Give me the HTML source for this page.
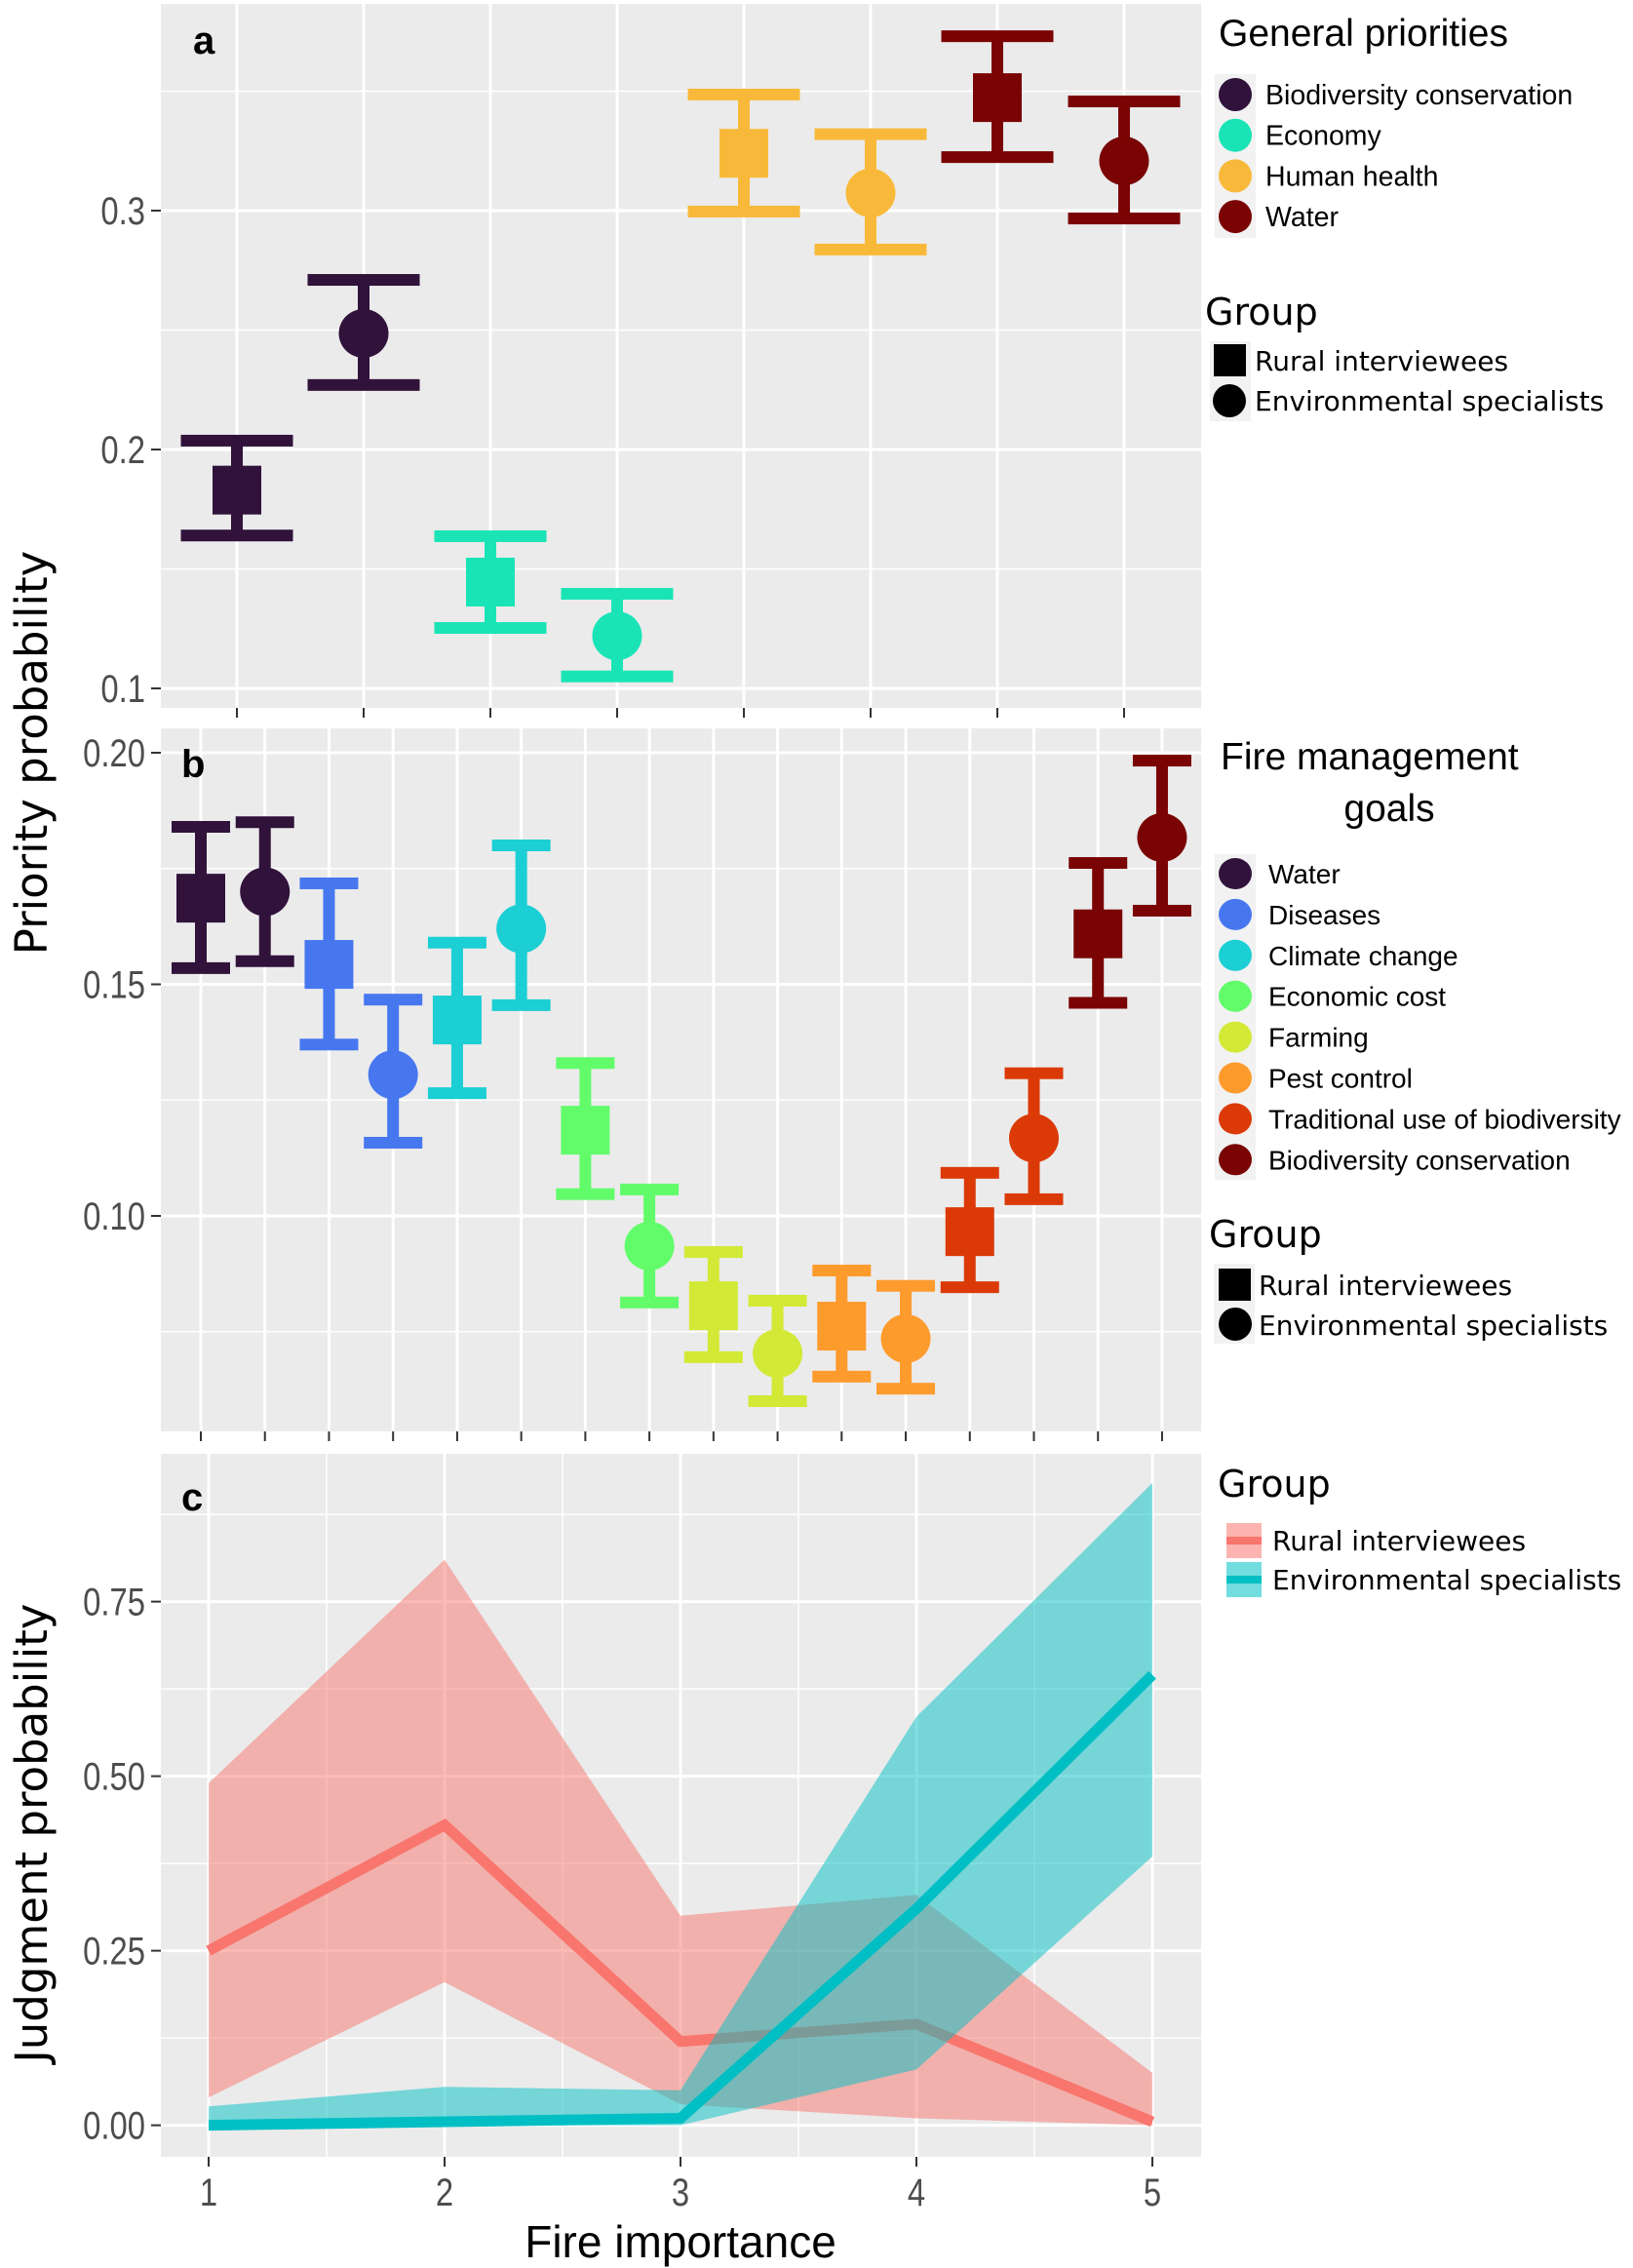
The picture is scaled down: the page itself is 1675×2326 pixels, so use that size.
<!DOCTYPE html>
<html><head><meta charset="utf-8">
<style>
html,body{margin:0;padding:0;background:#fff;}
svg{display:block;}
text{font-family:"Liberation Sans",sans-serif;}
</style></head>
<body>
<svg id="fig" width="1675" height="2326" xmlns="http://www.w3.org/2000/svg">
  <rect x="0" y="0" width="1675" height="2326" fill="#fff"/>
  <g id="pa"></g>
  <g id="pb"></g>
  <g id="pc"></g>
  <text transform="translate(48,772) rotate(-90)" text-anchor="middle" font-size="45" style="font-family:'DejaVu Sans',sans-serif" fill="#000">Priority probability</text>
  <text transform="translate(48,1880) rotate(-90)" text-anchor="middle" font-size="45" style="font-family:'DejaVu Sans',sans-serif" fill="#000">Judgment probability</text>
  <text x="698" y="2315" text-anchor="middle" font-size="46" fill="#000">Fire importance</text>
  <g id="legends"></g>
</svg>
<script>
// ---------- Panel a data ----------
const aCats = ['bio-rural','bio-env','eco-rural','eco-env','health-rural','health-env','water-rural','water-env'];
const aVals = [0.183,0.2486,0.1445,0.122,0.324,0.3074,0.3473,0.3208];
const aLow  = [0.164,0.227,0.1253,0.105,0.2996,0.2837,0.3224,0.2967];
const aHigh = [0.2037,0.271,0.1637,0.1396,0.3486,0.332,0.373,0.3457];
const aShape = ['s','c','s','c','s','c','s','c'];
const aColors = ['#30123b','#30123b','#1ae4b6','#1ae4b6','#f8b93a','#f8b93a','#7a0403','#7a0403'];
const aTicks = [0.1,0.2,0.3];
const aTickLabels = ['0.1','0.2','0.3'];
// ---------- Panel b data ----------
const bCats = ['water-r','water-e','dis-r','dis-e','clim-r','clim-e','ecost-r','ecost-e','farm-r','farm-e','pest-r','pest-e','trad-r','trad-e','bio-r','bio-e'];
const bVals = [0.1686,0.170,0.1543,0.1305,0.1423,0.162,0.1185,0.0935,0.0806,0.0703,0.0762,0.0735,0.0966,0.1168,0.1609,0.1817];
const bLow  = [0.1535,0.155,0.137,0.1158,0.1265,0.1455,0.1047,0.0813,0.0695,0.060,0.0653,0.0627,0.0846,0.1036,0.146,0.1659];
const bHigh = [0.184,0.185,0.1718,0.1467,0.159,0.180,0.133,0.1057,0.0922,0.0817,0.0882,0.0849,0.1093,0.1308,0.1762,0.1983];
const bColors = ['#30123b','#30123b','#4777ef','#4777ef','#1bcfd4','#1bcfd4','#62fc6b','#62fc6b','#d2e935','#d2e935','#fe9b2d','#fe9b2d','#db3a07','#db3a07','#7a0403','#7a0403'];
const bTicks = [0.10,0.15,0.20];
const bTickLabels = ['0.10','0.15','0.20'];
// ---------- Panel c data ----------
const cX = [1,2,3,4,5];
const ruralMean = [0.25,0.43,0.12,0.145,0.005];
const ruralHigh = [0.49,0.81,0.30,0.33,0.075];
const ruralLow  = [0.04,0.205,0.03,0.01,0.0];
const envMean = [0.0,0.005,0.01,0.31,0.645];
const envHigh = [0.027,0.055,0.05,0.585,0.92];
const envLow  = [0.0,0.0,0.0,0.08,0.385];
const cTicks = [0,0.25,0.5,0.75];
const cTickLabels = ['0.00','0.25','0.50','0.75'];
const cXLabels = ['1','2','3','4','5'];

const NS='http://www.w3.org/2000/svg';
function mk(tag,attrs,parent){const e=document.createElementNS(NS,tag);for(const k in attrs)e.setAttribute(k,attrs[k]);parent.appendChild(e);return e;}

const L=165,R=1232;
function panelBg(g,top,bot){
  const r=mk('rect',{x:L,y:top,width:R-L,height:bot-top,fill:'#ebebeb'},g);
  
  
}
function hline(g,y,w,col){mk('line',{x1:L,x2:R,y1:y,y2:y,stroke:col||'#fff','stroke-width':w},g);}
function vline(g,x,top,bot,w){mk('line',{x1:x,x2:x,y1:top,y2:bot,stroke:'#fff','stroke-width':w},g);}
function ytick(g,y,label){
  mk('line',{x1:155,x2:165,y1:y,y2:y,stroke:'#333','stroke-width':2},g);
  const t=mk('text',{transform:'translate(149,'+(y+14)+') scale(0.82,1)','text-anchor':'end','font-size':40,fill:'#4d4d4d'},g);
  t.textContent=label;
  
  
}
function panelLetter(g,x,y,s){
  const t=mk('text',{x:x,y:y,'font-size':40,'font-weight':'bold',fill:'#000'},g);
  t.textContent=s;
  
  
}
function errPoint(g,x,yv,yl,yh,col,shape,capW,name){
  const grp=mk('g',{},g);
  
  
  mk('rect',{x:x-6,y:yh,width:12,height:yl-yh,fill:col},grp);
  mk('rect',{x:x-capW/2,y:yh-6,width:capW,height:12,fill:col},grp);
  mk('rect',{x:x-capW/2,y:yl-6,width:capW,height:12,fill:col},grp);
  if(shape==='s') mk('rect',{x:x-25,y:yv-25,width:50,height:50,fill:col},grp);
  else mk('ellipse',{cx:x,cy:yv,rx:25.5,ry:25,fill:col},grp);
}

// ---------- Panel a ----------
(function(){
  const g=document.getElementById('pa');const top=4,bot=726;
  const ya=v=>216-(v-0.3)*2450;
  const xa=i=>243+i*130;
  panelBg(g,top,bot);
  [0.15,0.25,0.35].forEach(v=>hline(g,ya(v),1.5));
  aTicks.forEach(v=>hline(g,ya(v),3));
  aCats.forEach((c,i)=>vline(g,xa(i),top,bot,3));
  aTicks.forEach((v,i)=>ytick(g,ya(v),aTickLabels[i]));
  aCats.forEach((c,i)=>mk('line',{x1:xa(i),x2:xa(i),y1:bot,y2:bot+10,stroke:'#333','stroke-width':2},g));
  aCats.forEach((c,i)=>errPoint(g,xa(i),ya(aVals[i]),ya(aLow[i]),ya(aHigh[i]),aColors[i],aShape[i],115,'point-a-'+c));
  panelLetter(g,198,55,'a');
})();

// ---------- Panel b ----------
(function(){
  const g=document.getElementById('pb');const top=747,bot=1468;
  const yb=v=>772-(v-0.20)*4750;
  const xb=i=>206+i*65.73;
  panelBg(g,top,bot);
  [0.075,0.125,0.175].forEach(v=>hline(g,yb(v),1.5));
  bTicks.forEach(v=>hline(g,yb(v),3));
  bCats.forEach((c,i)=>vline(g,xb(i),top,bot,3));
  bTicks.forEach((v,i)=>ytick(g,yb(v),bTickLabels[i]));
  bCats.forEach((c,i)=>mk('line',{x1:xb(i),x2:xb(i),y1:bot,y2:bot+10,stroke:'#333','stroke-width':2},g));
  bCats.forEach((c,i)=>errPoint(g,xb(i),yb(bVals[i]),yb(bLow[i]),yb(bHigh[i]),bColors[i],i%2===0?'s':'c',60,'point-b-'+c));
  panelLetter(g,186,797,'b');
})();

// ---------- Panel c ----------
(function(){
  const g=document.getElementById('pc');const top=1491,bot=2212;
  const yc=v=>2179.6-v*716;
  const xc=v=>214+(v-1)*242;
  panelBg(g,top,bot);
  [0.125,0.375,0.625,0.875].forEach(v=>hline(g,yc(v),1.5));
  cTicks.forEach(v=>hline(g,yc(v),3));
  [1.5,2.5,3.5,4.5].forEach(v=>vline(g,xc(v),top,bot,1.5));
  cX.forEach(v=>vline(g,xc(v),top,bot,3));
  cTicks.forEach((v,i)=>ytick(g,yc(v),cTickLabels[i]));
  cX.forEach((v,i)=>{
    mk('line',{x1:xc(v),x2:xc(v),y1:bot,y2:bot+10,stroke:'#333','stroke-width':2},g);
    const t=mk('text',{transform:'translate('+xc(v)+','+(bot+50)+') scale(0.82,1)','text-anchor':'middle','font-size':40,fill:'#4d4d4d'},g);
    t.textContent=cXLabels[i];
    
    
  });
  function ribbon(lo,hi,col,name){
    let d='M'+cX.map((v,i)=>xc(v)+','+yc(hi[i])).join(' L');
    d+=' L'+cX.slice().reverse().map((v,j)=>{const i=cX.length-1-j;return xc(v)+','+yc(lo[i]);}).join(' L')+' Z';
    const p=mk('path',{d:d,fill:col,'fill-opacity':0.5},g);
    
    
  }
  function line(m,col,name){
    const p=mk('polyline',{points:cX.map((v,i)=>xc(v)+','+yc(m[i])).join(' '),fill:'none',stroke:col,'stroke-width':11},g);
    
    
  }
  ribbon(ruralLow,ruralHigh,'#f8766d','ribbon-rural');
  line(ruralMean,'#f8766d','line-rural');
  ribbon(envLow,envHigh,'#00bfc4','ribbon-environmental');
  line(envMean,'#00bfc4','line-environmental');
  panelLetter(g,186,1549,'c');
})();

// ---------- Legends ----------
(function(){
  const g=document.getElementById('legends');
  function txt(x,y,s,size,name,fam){
    const t=mk('text',{x:x,y:y,'font-size':size,fill:'#000'},g);
    if(fam)t.setAttribute('style','font-family:'+fam);
    t.textContent=s;
    
    
    return t;
  }
  const dv="'DejaVu Sans',sans-serif";
  txt(1250,47,'General priorities',39,'legend-title-general-priorities');
  mk('rect',{x:1246,y:76,width:42,height:168,fill:'#f2f2f2'},g);
  const aLeg=['Biodiversity conservation','Economy','Human health','Water'];
  const aLegC=['#30123b','#1ae4b6','#f8b93a','#7a0403'];
  aLeg.forEach((s,i)=>{const y=97+i*41.7;
    const c=mk('circle',{cx:1267,cy:y,r:17,fill:aLegC[i]},g);
    
    
    txt(1298,y+10,s,28.5,'legend-entry-a');});
  txt(1236,333,'Group',38,'legend-title-group-a',dv);
  mk('rect',{x:1241,y:350,width:42,height:82,fill:'#f2f2f2'},g);
  mk('rect',{x:1245,y:353,width:33,height:33,fill:'#000'},g);
  mk('circle',{cx:1261,cy:411,r:17,fill:'#000'},g);
  txt(1287,380,'Rural interviewees',28,'legend-entry-rural-a',dv);
  txt(1287,421,'Environmental specialists',28,'legend-entry-env-a',dv);
  txt(1252,789,'Fire management',39,'legend-title-fire-goals');
  txt(1425,842,'goals',39,'legend-title-goals').setAttribute('text-anchor','middle');
  mk('rect',{x:1246,y:876,width:42,height:334,fill:'#f2f2f2'},g);
  const bLeg=['Water','Diseases','Climate change','Economic cost','Farming','Pest control','Traditional use of biodiversity','Biodiversity conservation'];
  const bLegC=['#30123b','#4777ef','#1bcfd4','#62fc6b','#d2e935','#fe9b2d','#db3a07','#7a0403'];
  bLeg.forEach((s,i)=>{const y=896+i*41.9;
    const c=mk('ellipse',{cx:1267,cy:y,rx:17,ry:16,fill:bLegC[i]},g);
    
    
    txt(1301,y+10,s,28,'legend-entry-b');});
  txt(1240,1279,'Group',38,'legend-title-group-b',dv);
  mk('rect',{x:1245,y:1296,width:42,height:82,fill:'#f2f2f2'},g);
  mk('rect',{x:1250,y:1301,width:33,height:33,fill:'#000'},g);
  mk('circle',{cx:1267,cy:1358,r:17,fill:'#000'},g);
  txt(1291,1328,'Rural interviewees',28,'legend-entry-rural-b',dv);
  txt(1291,1369,'Environmental specialists',28,'legend-entry-env-b',dv);
  txt(1249,1535,'Group',38,'legend-title-group-c',dv);
  mk('rect',{x:1258,y:1562,width:36,height:36,fill:'#f8766d','fill-opacity':0.55},g);
  mk('rect',{x:1258,y:1576,width:36,height:8,fill:'#f8766d'},g);
  mk('rect',{x:1258,y:1602,width:36,height:36,fill:'#00bfc4','fill-opacity':0.55},g);
  mk('rect',{x:1258,y:1616,width:36,height:8,fill:'#00bfc4'},g);
  txt(1305,1590,'Rural interviewees',28,'legend-entry-rural-c',dv);
  txt(1305,1630,'Environmental specialists',28,'legend-entry-env-c',dv);
})();
</script>
</body></html>
